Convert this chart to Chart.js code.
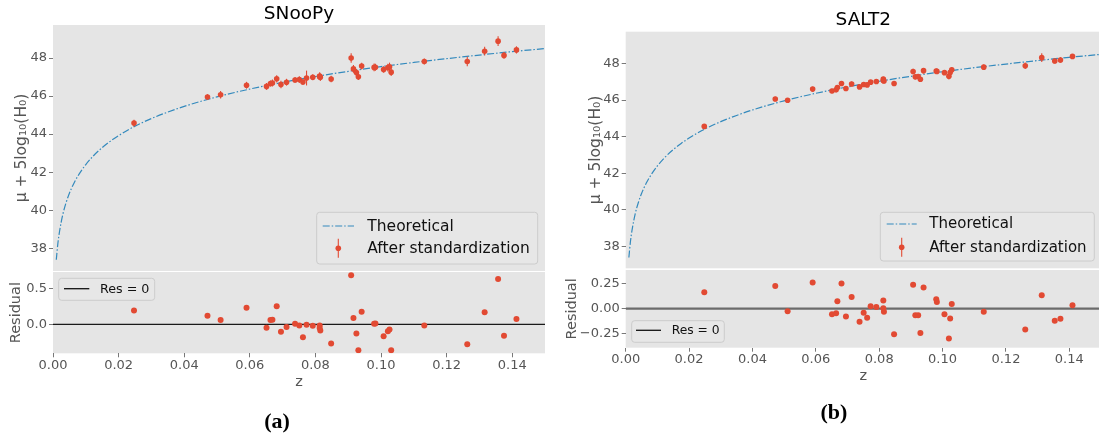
<!DOCTYPE html>
<html><head><meta charset="utf-8">
<script src="https://cdn.jsdelivr.net/npm/chart.js@4.4.1/dist/chart.umd.min.js"></script>
<style>
html,body{margin:0;padding:0;background:#fff;overflow:hidden;width:1099px;height:440px;position:relative;}
canvas{position:absolute;}
.cap{position:absolute;width:60px;text-align:center;font-family:"Liberation Serif",serif;font-weight:bold;font-size:22px;line-height:22px;color:#000;}
</style></head><body>
<canvas id="topA" width="550" height="290" style="left:0px;top:0px"></canvas>
<canvas id="resA" width="550" height="180" style="left:0px;top:260px"></canvas>
<canvas id="topB" width="545" height="290" style="left:560px;top:0px"></canvas>
<canvas id="resB" width="545" height="182" style="left:560px;top:258px"></canvas>
<div class="cap" style="left:247px;top:410px">(a)</div>
<div class="cap" style="left:804px;top:401px">(b)</div>
<script>
// ---------- data ----------
const curveZ  = [0.001,0.0015,0.002,0.003,0.004,0.005,0.0065,0.008,0.01,0.0125,0.015,0.0175,0.02,0.025,0.03,0.035,0.04,0.05,0.06,0.07,0.08,0.09,0.10,0.11,0.12,0.13,0.14,0.15];
const curveMu = [37.39,38.27,38.89,39.78,40.40,40.89,41.46,41.91,42.40,42.89,43.29,43.63,43.92,44.42,44.82,45.16,45.46,45.96,46.37,46.72,47.03,47.30,47.55,47.77,47.97,48.16,48.34,48.50];

const snoopyZ   = [0.0247,0.0471,0.0511,0.0590,0.0651,0.0663,0.0669,0.0682,0.0695,0.0712,0.0738,0.0751,0.0762,0.0773,0.0792,0.0813,0.0813,0.0815,0.0848,0.0909,0.0916,0.0925,0.0931,0.0941,0.0979,0.0983,0.1008,0.1021,0.1026,0.1031,0.1132,0.1263,0.1316,0.1357,0.1375,0.1413];
const snoopyMu  = [44.58,45.95,46.07,46.57,46.51,46.66,46.69,46.91,46.61,46.73,46.85,46.87,46.74,46.95,46.99,47.05,47.02,46.99,46.90,48.00,47.43,47.24,47.02,47.58,47.51,47.52,47.40,47.50,47.54,47.26,47.82,47.82,48.36,48.89,48.14,48.43];
const snoopyErr = [0.18,0.15,0.20,0.18,0.18,0.16,0.18,0.19,0.20,0.18,0.15,0.18,0.16,0.39,0.16,0.20,0.15,0.20,0.17,0.25,0.20,0.18,0.17,0.18,0.20,0.18,0.17,0.20,0.22,0.20,0.16,0.25,0.23,0.26,0.18,0.19];
const snoopyRes = [0.194,0.12,0.06,0.23,-0.047,0.06,0.064,0.25,-0.10,-0.037,0.008,-0.014,-0.176,-0.005,-0.019,-0.014,-0.051,-0.084,-0.264,0.68,0.088,-0.125,-0.357,0.175,0.01,0.014,-0.163,-0.093,-0.07,-0.357,-0.014,-0.274,0.17,0.63,-0.158,0.074];

const salt2Z   = [0.0248,0.0472,0.0511,0.0590,0.0651,0.0664,0.0668,0.0681,0.0695,0.0713,0.0738,0.0751,0.0762,0.0773,0.0791,0.0813,0.0813,0.0815,0.0847,0.0907,0.0914,0.0923,0.0930,0.0940,0.0980,0.0982,0.1006,0.1020,0.1024,0.1029,0.1130,0.1261,0.1313,0.1354,0.1372,0.1410];
const salt2Mu  = [44.56,46.06,45.99,46.60,46.50,46.56,46.69,46.91,46.63,46.88,46.72,46.85,46.83,46.98,47.02,47.15,47.07,47.04,46.91,47.56,47.27,47.29,47.14,47.61,47.59,47.57,47.50,47.30,47.51,47.66,47.80,47.88,48.32,48.14,48.19,48.39];
const salt2Err = [0.12,0.12,0.12,0.13,0.12,0.12,0.14,0.12,0.12,0.14,0.12,0.12,0.12,0.12,0.12,0.13,0.12,0.12,0.12,0.15,0.13,0.13,0.12,0.15,0.12,0.12,0.12,0.18,0.12,0.14,0.14,0.18,0.24,0.14,0.15,0.13];
const salt2Res = [0.164,0.224,-0.026,0.26,-0.056,-0.046,0.074,0.25,-0.076,0.117,-0.13,-0.04,-0.09,0.024,0.017,0.08,0.004,-0.03,-0.253,0.237,-0.066,-0.066,-0.24,0.21,0.094,0.067,-0.056,-0.296,-0.096,0.047,-0.03,-0.206,0.134,-0.12,-0.10,0.034];

const zeroLineZ = [0, 0.15];
const zeroLineRes = [0, 0];

const xTicks = [0, 0.02, 0.04, 0.06, 0.08, 0.10, 0.12, 0.14];
const xTickLabels = ['0.00','0.02','0.04','0.06','0.08','0.10','0.12','0.14'];
const muTicks = [38, 40, 42, 44, 46, 48];
const muTickLabels = ['38','40','42','44','46','48'];
const resTicksA = [0, 0.5];
const resTickLabelsA = ['0.0','0.5'];
const resTicksB = [-0.25, 0, 0.25];
const resTickLabelsB = ['\u22120.25','0.00','0.25'];

const titles = ['SNooPy', 'SALT2'];
const yTitleTop = 'μ + 5log₁₀(H₀)';
const yTitleRes = 'Residual';
const xTitle = 'z';
const legendTheo = 'Theoretical';
const legendData = 'After standardization';
const legendZero = 'Res = 0';

// ---------- styling ----------
const FAM = '"DejaVu Sans", sans-serif';
const RED = '#E24A33', BLUE = '#348ABD', BG = '#E5E5E5', TXT = '#555555';
const DASH = [7, 2, 1.5, 2];
Chart.defaults.font.family = FAM;

const pts = (xs, ys) => xs.map((x, i) => ({x: x, y: ys[i]}));

const bgPlugin = {
  id: 'panelBg',
  beforeDraw(chart) {
    const a = chart.chartArea, ctx = chart.ctx;
    ctx.save(); ctx.fillStyle = BG;
    ctx.fillRect(a.left, a.top, a.right - a.left, a.bottom - a.top);
    ctx.restore();
  }
};
const errPlugin = {
  id: 'errBars',
  beforeDatasetDraw(chart, args) {
    const ds = chart.data.datasets[args.index];
    if (!ds.errors) return;
    const xs = chart.scales.x, ys = chart.scales.y, ctx = chart.ctx;
    ctx.save();
    ctx.beginPath();
    const a = chart.chartArea;
    ctx.rect(a.left, a.top, a.right - a.left, a.bottom - a.top); ctx.clip();
    ctx.strokeStyle = RED; ctx.lineWidth = 1.1;
    ds.data.forEach((p, i) => {
      const px = xs.getPixelForValue(p.x);
      ctx.beginPath();
      ctx.moveTo(px, ys.getPixelForValue(p.y - ds.errors[i]));
      ctx.lineTo(px, ys.getPixelForValue(p.y + ds.errors[i]));
      ctx.stroke();
    });
    ctx.restore();
  }
};
const legendSpecs = {};
const legendPlugin = {
  id: 'boxLegend',
  afterDraw(chart) {
    const s = legendSpecs[chart.canvas.id];
    if (!s) return;
    const ctx = chart.ctx;
    ctx.save();
    const [bx, by, bw, bh] = s.box, r = 3;
    ctx.beginPath();
    ctx.moveTo(bx + r, by); ctx.lineTo(bx + bw - r, by); ctx.arcTo(bx + bw, by, bx + bw, by + r, r);
    ctx.lineTo(bx + bw, by + bh - r); ctx.arcTo(bx + bw, by + bh, bx + bw - r, by + bh, r);
    ctx.lineTo(bx + r, by + bh); ctx.arcTo(bx, by + bh, bx, by + bh - r, r);
    ctx.lineTo(bx, by + r); ctx.arcTo(bx, by, bx + r, by, r); ctx.closePath();
    ctx.fillStyle = 'rgba(232,232,232,0.85)'; ctx.fill();
    ctx.strokeStyle = '#CCCCCC'; ctx.lineWidth = 1; ctx.stroke();
    ctx.font = s.size + 'px ' + FAM; ctx.textBaseline = 'middle'; ctx.textAlign = 'left';
    s.items.forEach(it => {
      if (it.kind === 'line') {
        ctx.save(); ctx.strokeStyle = it.color; ctx.lineWidth = it.width; ctx.setLineDash(it.dash || []);
        ctx.beginPath(); ctx.moveTo(it.x0, it.y); ctx.lineTo(it.x1, it.y); ctx.stroke(); ctx.restore();
      } else {
        ctx.save(); ctx.strokeStyle = RED; ctx.lineWidth = 1.1;
        ctx.beginPath(); ctx.moveTo(it.x0, it.y - 9.5); ctx.lineTo(it.x0, it.y + 9.5); ctx.stroke();
        ctx.fillStyle = RED; ctx.beginPath(); ctx.arc(it.x0, it.y, 2.8, 0, Math.PI * 2); ctx.fill(); ctx.restore();
      }
      ctx.fillStyle = '#111'; ctx.fillText(it.text, it.tx, it.y + 0.5);
    });
    ctx.restore();
  }
};

function yScale(min, max, ticks, labels, width, title, titleSize, titlePad) {
  return {
    type: 'linear', min: min, max: max, position: 'left',
    afterBuildTicks: sc => { sc.ticks = ticks.map(v => ({value: v})); },
    afterFit: sc => { sc.width = width; },
    ticks: {color: TXT, font: {size: 13}, padding: 2, callback: (v, i) => labels[i]},
    grid: {display: true, drawOnChartArea: false, drawTicks: true, tickLength: 4, color: TXT, lineWidth: 0.8},
    border: {display: false},
    title: {display: true, text: title, color: TXT, font: {size: titleSize}, padding: {top: titlePad, bottom: 0}}
  };
}
function xScale(show) {
  const base = {type: 'linear', min: 0, max: 0.15, position: 'bottom'};
  if (!show) return Object.assign(base, {display: false});
  return Object.assign(base, {
    afterBuildTicks: sc => { sc.ticks = xTicks.map(v => ({value: v})); },
    afterFit: sc => { sc.height = 40; },
    ticks: {color: TXT, font: {size: 13}, padding: 0.5, maxRotation: 0, autoSkip: false, callback: (v, i) => xTickLabels[i]},
    grid: {display: true, drawOnChartArea: false, drawTicks: true, tickLength: 4, color: TXT, lineWidth: 0.8},
    border: {display: false},
    title: {display: true, text: xTitle, color: TXT, font: {size: 14.5}, padding: {top: 0, bottom: 2.8}}
  });
}

function makeTop(id, title, titlePad, zs, mus, errs, yWidth, yTitlePad, padRight, padBottom) {
  return new Chart(document.getElementById(id), {
    type: 'scatter',
    data: {datasets: [
      {label: legendData, data: pts(zs, mus), errors: errs, pointRadius: 2.8, pointBackgroundColor: RED, pointBorderWidth: 0, showLine: false},
      {label: legendTheo, data: pts(curveZ, curveMu), showLine: true, pointRadius: 0, borderColor: BLUE, borderWidth: 1.2, borderDash: DASH, cubicInterpolationMode: 'monotone', fill: false}
    ]},
    options: {
      responsive: false, animation: false, devicePixelRatio: 1, events: [],
      layout: {padding: {left: 0, right: padRight, top: 0, bottom: padBottom}},
      plugins: {
        legend: {display: false}, tooltip: {enabled: false},
        title: {display: true, text: title, fullSize: false, color: '#000', font: {size: 18.5, weight: 'normal'}, padding: titlePad}
      },
      scales: {x: xScale(false), y: yScale(36.8, 49.74, muTicks, muTickLabels, yWidth, yTitleTop, 15.5, yTitlePad)}
    },
    plugins: [bgPlugin, errPlugin, legendPlugin]
  });
}
function makeRes(id, zs, res, ymin, ymax, ticks, labels, yWidth, yTitlePad, padTop, padRight, padBottom, lineColor, lineWidth) {
  return new Chart(document.getElementById(id), {
    type: 'scatter',
    data: {datasets: [
      {label: 'res', data: pts(zs, res), pointRadius: 3, pointBackgroundColor: RED, pointBorderWidth: 0, showLine: false},
      {label: legendZero, data: pts(zeroLineZ, zeroLineRes), showLine: true, pointRadius: 0, borderColor: lineColor, borderWidth: lineWidth, fill: false}
    ]},
    options: {
      responsive: false, animation: false, devicePixelRatio: 1, events: [],
      layout: {padding: {left: 0, right: padRight, top: padTop, bottom: padBottom}},
      plugins: {legend: {display: false}, tooltip: {enabled: false}},
      scales: {x: xScale(true), y: yScale(ymin, ymax, ticks, labels, yWidth, yTitleRes, 14.5, yTitlePad)}
    },
    plugins: [bgPlugin, legendPlugin]
  });
}

legendSpecs.topA = {box: [316.7, 212.3, 221, 51.7], size: 15.5, items: [
  {kind: 'line', color: BLUE, width: 1.2, dash: DASH, x0: 322.7, x1: 354, y: 226, tx: 367.3, text: legendTheo},
  {kind: 'err', x0: 338.3, y: 248.3, tx: 367.3, text: legendData}]};
legendSpecs.topB = {box: [320.3, 212.3, 214, 48.7], size: 15, items: [
  {kind: 'line', color: BLUE, width: 1.2, dash: DASH, x0: 326.7, x1: 356.7, y: 224, tx: 369.3, text: legendTheo},
  {kind: 'err', x0: 341.7, y: 247.3, tx: 369.3, text: legendData}]};
legendSpecs.resA = {box: [58.7, 18.3, 96, 22], size: 12.7, items: [
  {kind: 'line', color: '#111', width: 1.3, x0: 64, x1: 89.3, y: 28.7, tx: 100, text: legendZero}]};
legendSpecs.resB = {box: [71.7, 62.7, 92.6, 21.6], size: 12.3, items: [
  {kind: 'line', color: '#111', width: 1.3, x0: 76, x1: 101, y: 72.3, tx: 111.7, text: legendZero}]};

makeTop('topA', titles[0], {top: 2.8, bottom: 0}, snoopyZ, snoopyMu, snoopyErr, 53, 12.2, 5, 19);
makeTop('topB', titles[1], {top: 9.2, bottom: 0.3}, salt2Z, salt2Mu, salt2Err, 65.7, 26.5, 3.75, 21.7);
makeRes('resA', snoopyZ, snoopyRes, -0.40, 0.726, resTicksA, resTickLabelsA, 53, 7.3, 12, 5, 46.7, '#1a1a1a', 1.3);
makeRes('resB', salt2Z, salt2Res, -0.386, 0.383, resTicksB, resTickLabelsB, 65.7, 3.3, 12, 3.75, 52.3, '#6b6b6b', 2.2);
</script>
</body></html>
